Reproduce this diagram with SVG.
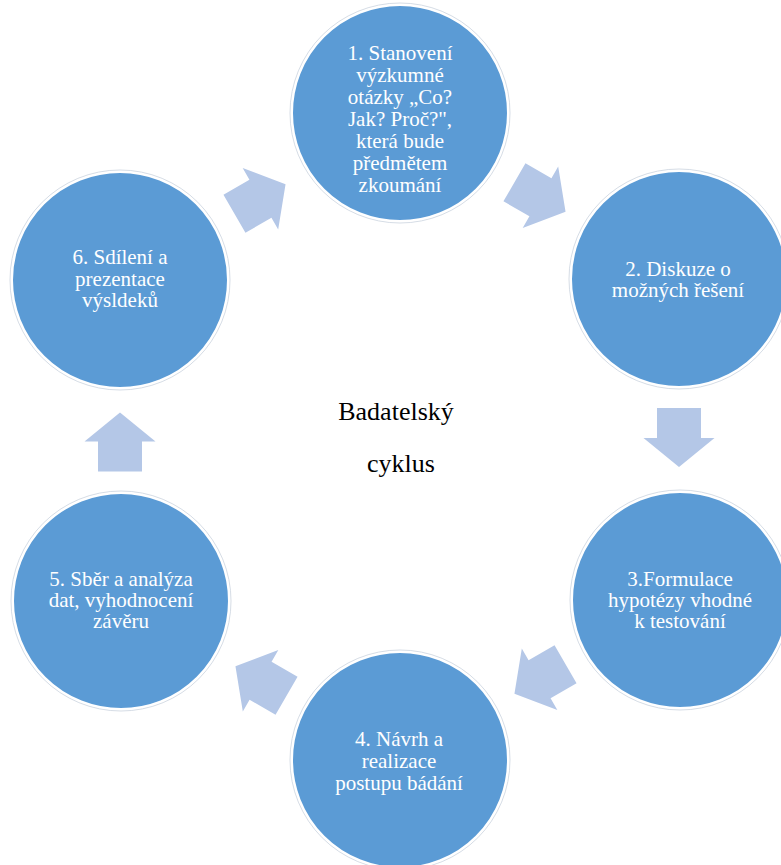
<svg xmlns="http://www.w3.org/2000/svg" xmlns:xlink="http://www.w3.org/1999/xlink" width="781" height="865" viewBox="0 0 781 865">
<style>
.node-shape{fill:#5B9BD5;stroke:#ffffff;stroke-width:2}
.halo{fill:none;stroke:#d6dde6;stroke-width:1}
.lbl{font-family:"Liberation Serif","DejaVu Serif",serif;font-size:21px;fill:#ffffff;text-anchor:middle}
.title{font-family:"Liberation Serif","DejaVu Serif",serif;font-size:26px;fill:#000000;text-anchor:middle}
.arrow{fill:#B4C7E7}
</style>
<defs>
<polygon id="blockArrow" points="-29.5,-22 0.5,-22 0.5,-35.5 29.5,0 0.5,35.5 0.5,22 -29.5,22"/>
</defs>
<rect width="781" height="865" fill="#ffffff"/>
<g id="connectors" class="arrow">
<use xlink:href="#blockArrow" transform="translate(540,197) rotate(30)"/>
<use xlink:href="#blockArrow" transform="translate(679,437.5) rotate(90)"/>
<use xlink:href="#blockArrow" transform="translate(540,679) rotate(150)"/>
<use xlink:href="#blockArrow" transform="translate(261,681) rotate(210)"/>
<use xlink:href="#blockArrow" transform="translate(120,442) rotate(270)"/>
<use xlink:href="#blockArrow" transform="translate(260,199) rotate(-30)"/>
</g>
<g id="node1">
<circle class="halo" cx="400" cy="113" r="110"/>
<circle class="node-shape" cx="400" cy="113" r="108"/>
<text class="lbl" font-family="Liberation Serif, serif"><tspan x="400" y="60">1. Stanovení</tspan><tspan x="400" y="82">výzkumné</tspan><tspan x="400" y="104">otázky „Co?</tspan><tspan x="400" y="126">Jak? Proč?",</tspan><tspan x="400" y="148">která bude</tspan><tspan x="400" y="170">předmětem</tspan><tspan x="400" y="192">zkoumání</tspan></text>
</g>
<g id="node2">
<circle class="halo" cx="679" cy="279" r="110"/>
<circle class="node-shape" cx="679" cy="279" r="108"/>
<text class="lbl"><tspan x="678" y="276">2. Diskuze o</tspan><tspan x="678" y="297">možných řešení</tspan></text>
</g>
<g id="node3">
<circle class="halo" cx="680" cy="600" r="110"/>
<circle class="node-shape" cx="680" cy="600" r="108"/>
<text class="lbl"><tspan x="680" y="586">3.Formulace</tspan><tspan x="680" y="607">hypotézy vhodné</tspan><tspan x="680" y="628">k testování</tspan></text>
</g>
<g id="node4">
<circle class="halo" cx="400" cy="760" r="110"/>
<circle class="node-shape" cx="400" cy="760" r="108"/>
<text class="lbl"><tspan x="399" y="746">4. Návrh a</tspan><tspan x="399" y="768">realizace</tspan><tspan x="399" y="790">postupu bádání</tspan></text>
</g>
<g id="node5">
<circle class="halo" cx="121" cy="601" r="110"/>
<circle class="node-shape" cx="121" cy="601" r="108"/>
<text class="lbl"><tspan x="121" y="586">5. Sběr a analýza</tspan><tspan x="121" y="607">dat, vyhodnocení</tspan><tspan x="121" y="628">závěru</tspan></text>
</g>
<g id="node6">
<circle class="halo" cx="120" cy="280" r="110"/>
<circle class="node-shape" cx="120" cy="280" r="108"/>
<text class="lbl"><tspan x="120" y="264">6. Sdílení a</tspan><tspan x="120" y="286">prezentace</tspan><tspan x="120" y="307">výsldeků</tspan></text>
</g>
<g id="center-label">
<text class="title"><tspan x="396" y="420">Badatelský</tspan><tspan x="401" y="472">cyklus</tspan></text>
</g>
</svg>
